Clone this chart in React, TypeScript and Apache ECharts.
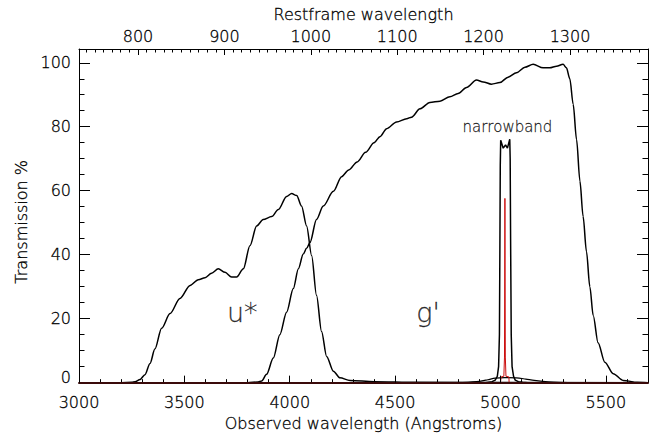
import React, { useEffect, useRef } from "react";
import * as echarts from "echarts";

// ---- data (observed wavelength in Angstroms, transmission in %) ----
const ONE_PLUS_Z = 4.1;
const X_MIN = 3000;
const X_MAX = 5700;
const Y_MAX = 104.3;

const uStarWl = [3000, 3200, 3250, 3266, 3290, 3313, 3337, 3360, 3392, 3432, 3479, 3527, 3566, 3598, 3629, 3661, 3693, 3724, 3748, 3780, 3811, 3843, 3874, 3914, 3946, 3985, 4009, 4033, 4056, 4080, 4104, 4127, 4151, 4175, 4207, 4238, 4286, 4400, 4600, 5700];
const uStarT = [0, 0, 0.1, 0.3, 1, 2.5, 6, 10.5, 17, 21.6, 26.3, 30.4, 32.2, 32.8, 34.2, 35.6, 34.5, 33, 33, 35.6, 42.8, 49, 51, 51.9, 54.1, 58.2, 59.1, 58.5, 55.2, 49, 39.7, 27.3, 16, 8.2, 3.6, 1.5, 0.7, 0.3, 0.1, 0];

const gPrimeWl = [3000, 3800, 3850, 3867, 3890, 3922, 3953, 3985, 4017, 4041, 4064, 4080, 4096, 4127, 4159, 4207, 4246, 4280, 4320, 4360, 4400, 4428, 4460, 4507, 4555, 4578, 4618, 4665, 4713, 4760, 4799, 4839, 4886, 4918, 4957, 4997, 5036, 5076, 5116, 5155, 5202, 5234, 5266, 5297, 5313, 5329, 5345, 5361, 5377, 5392, 5408, 5424, 5440, 5463, 5495, 5535, 5582, 5650, 5700];
const gPrimeT = [0, 0, 0.2, 0.5, 2.6, 7.7, 15, 22, 29.4, 35.6, 40.2, 42, 43.8, 51, 55.2, 59.8, 64.4, 66.5, 69, 72, 75, 76.9, 79.4, 81.5, 82.5, 83, 85.6, 87.6, 88, 89.4, 90.4, 92.3, 94.6, 94, 93.3, 93.8, 95.5, 96.9, 98.6, 99.5, 98.4, 98.4, 98.9, 99.5, 98.4, 95, 87, 76, 63, 52, 41, 30, 21, 12.5, 6.4, 2.8, 0.7, 0.1, 0];

const narrowWl = [4930, 4960, 4975, 4985, 4991, 4995, 4997, 4999, 5001, 5013, 5024, 5033, 5044, 5046, 5048, 5051, 5055, 5062, 5070, 5085, 5105, 5130];
const narrowT = [0, 0.3, 0.8, 2, 5, 15, 40, 68, 75.8, 73.3, 74.3, 73.3, 76.1, 70, 45, 15, 5, 2, 0.8, 0.3, 0.1, 0];

const broadLowWl = [4820, 4900, 4940, 4975, 5020, 5075, 5120, 5160, 5200, 5250, 5320];
const broadLowT = [0, 0.4, 0.9, 1.4, 1.6, 1.5, 1.1, 0.7, 0.4, 0.15, 0];

const lineWl = [3000, 5000, 5002, 5003, 5016, 5019, 5021, 5023, 5026, 5040, 5041, 5043, 5700];
const lineT = [0, 0, 0, 1.8, 2, 8, 57.6, 8, 2, 1.8, 0, 0, 0];

const annText = ["u*", "g'", "narrowband"];
const annWl = [3775, 4656, 5033];
const annT = [22, 22, 80];

const zip = (xs: number[], ys: number[]) => xs.map((x, i) => [x, ys[i]]);

const FONT = "'DejaVu Sans', 'Noto Sans', sans-serif";
const txt = {
  fontFamily: FONT,
  fontWeight: 200 as any,
  color: "#000",
  textBorderColor: "#000",
  textBorderWidth: 0.3,
};
const plain = (v: number) => String(Math.round(v));

export default function App() {
  const ref = useRef<HTMLDivElement>(null);
  useEffect(() => {
    if (!ref.current) return;
    const chart = echarts.init(ref.current, undefined, { renderer: "svg" });
    const restMin = X_MIN / ONE_PLUS_Z;
    const restMax = X_MAX / ONE_PLUS_Z;
    const annSizes: Record<string, number> = { "u*": 27, "g'": 27, narrowband: 15 };
    const option: any = {
      animation: false,
      backgroundColor: "#fff",
      grid: { left: 79, right: 6, top: 49, bottom: 50, containLabel: false },
      xAxis: [
        {
          type: "value", position: "bottom", min: X_MIN, max: X_MAX, interval: 500, z: 5,
          axisLine: { onZero: false, lineStyle: { color: "#3a0a0a", width: 2 } },
          axisTick: { inside: true, length: 7, lineStyle: { color: "#000", width: 1 } },
          axisLabel: { ...txt, fontSize: 16, margin: 12, showMaxLabel: false, formatter: plain },
          splitLine: { show: false },
          name: "Observed wavelength (Angstroms)", nameLocation: "middle", nameGap: 31,
          nameTextStyle: { ...txt, fontSize: 16 },
        },
        {
          type: "value", position: "bottom", min: X_MIN, max: X_MAX, interval: 100,
          axisLine: { show: false, onZero: false },
          axisTick: { inside: true, length: 3.5, lineStyle: { color: "#000", width: 1 } },
          axisLabel: { show: false }, splitLine: { show: false },
        },
        {
          type: "value", position: "top", min: restMin, max: restMax, splitNumber: 7,
          axisLine: { onZero: false, lineStyle: { color: "#000", width: 1 } },
          axisTick: { inside: true, length: 6, lineStyle: { color: "#000", width: 1 } },
          axisLabel: { ...txt, fontSize: 16, margin: 5, showMinLabel: false, showMaxLabel: false, formatter: plain },
          splitLine: { show: false },
          name: "Restframe wavelength", nameLocation: "middle", nameGap: 20,
          nameTextStyle: { ...txt, fontSize: 16 },
        },
        {
          type: "value", position: "top", min: restMin, max: restMax, splitNumber: 66,
          axisLine: { show: false, onZero: false },
          axisTick: { inside: true, length: 3.5, lineStyle: { color: "#000", width: 1 } },
          axisLabel: { show: false }, splitLine: { show: false },
        },
      ],
      yAxis: [
        {
          type: "value", position: "left", min: 0, max: Y_MAX, interval: 20,
          axisLine: { onZero: false, lineStyle: { color: "#000", width: 1 } },
          axisTick: { inside: true, length: 11, lineStyle: { color: "#000", width: 1 } },
          axisLabel: {
            ...txt, fontSize: 16, margin: 8, showMaxLabel: false,
            formatter: (v: number) => (v === 0 ? "{z|0}" : plain(v)),
            rich: { z: { ...txt, fontSize: 16, padding: [0, 0, 11, 0] } },
          },
          splitLine: { show: false },
          name: "Transmission %", nameLocation: "middle", nameGap: 50, nameRotate: 90,
          nameTextStyle: { ...txt, fontSize: 16, padding: [0, 12, 0, 0] },
        },
        {
          type: "value", position: "left", min: 0, max: Y_MAX, interval: 5,
          axisLine: { show: false, onZero: false },
          axisTick: { inside: true, length: 5.5, lineStyle: { color: "#000", width: 1 } },
          axisLabel: { show: false }, splitLine: { show: false },
        },
        {
          type: "value", position: "right", min: 0, max: Y_MAX, interval: 20,
          axisLine: { onZero: false, lineStyle: { color: "#000", width: 1 } },
          axisTick: { inside: true, length: 11, lineStyle: { color: "#000", width: 1 } },
          axisLabel: { show: false }, splitLine: { show: false },
        },
        {
          type: "value", position: "right", min: 0, max: Y_MAX, interval: 5,
          axisLine: { show: false, onZero: false },
          axisTick: { inside: true, length: 5.5, lineStyle: { color: "#000", width: 1 } },
          axisLabel: { show: false }, splitLine: { show: false },
        },
      ],
      series: [
        {
          name: "g'", type: "line", xAxisIndex: 0, yAxisIndex: 0, data: zip(gPrimeWl, gPrimeT),
          showSymbol: false, smooth: 0.3, smoothMonotone: "x",
          lineStyle: { color: "#000", width: 1.5 },
        },
        {
          name: "u*", type: "line", xAxisIndex: 0, yAxisIndex: 0, data: zip(uStarWl, uStarT),
          showSymbol: false, smooth: 0.3, smoothMonotone: "x",
          lineStyle: { color: "#000", width: 1.5 },
        },
        {
          name: "broad", type: "line", xAxisIndex: 0, yAxisIndex: 0, data: zip(broadLowWl, broadLowT),
          showSymbol: false, smooth: 0.3,
          lineStyle: { color: "#000", width: 1.2 },
        },
        {
          name: "narrowband", type: "line", xAxisIndex: 0, yAxisIndex: 0, data: zip(narrowWl, narrowT),
          showSymbol: false, smooth: false,
          lineStyle: { color: "#000", width: 1.5 },
        },
        {
          name: "line", type: "line", xAxisIndex: 0, yAxisIndex: 0, data: zip(lineWl, lineT),
          showSymbol: false, smooth: false,
          lineStyle: { color: "#cc1010", width: 1 },
        },
        {
          name: "labels", type: "scatter", xAxisIndex: 0, yAxisIndex: 0, symbolSize: 0, z: 10,
          silent: true,
          data: annText.map((t, i) => ({
            name: t, value: [annWl[i], annT[i]],
            label: { fontSize: annSizes[t] },
          })),
          label: {
            show: true, position: "inside", formatter: (p: any) => p.name,
            ...txt,
          },
        },
      ],
    };
    chart.setOption(option);
    return () => chart.dispose();
  }, []);
  return (
    <div
      ref={ref}
      style={{ position: "fixed", left: 0, top: 0, width: 654, height: 437, background: "#fff" }}
    />
  );
}
